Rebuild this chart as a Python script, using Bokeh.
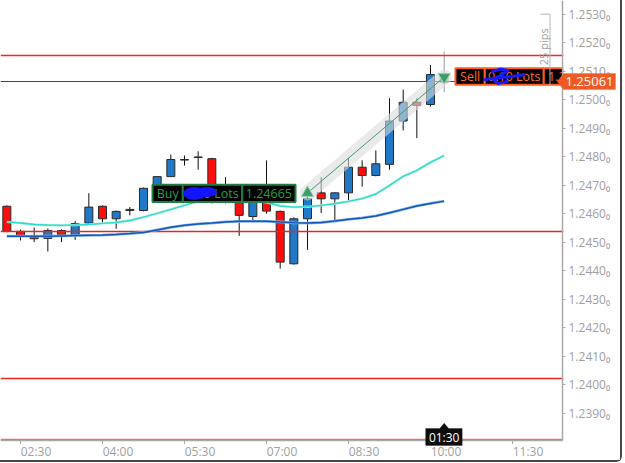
import datetime as dt
from math import pi
from bokeh.plotting import figure
from bokeh.models import (ColumnDataSource, Range1d, FixedTicker, Label, PolyAnnotation)
from bokeh.core.properties import value
from bokeh.embed import file_html
from bokeh.resources import INLINE

# ---------------- data ----------------
times = ["02:15", "02:30", "02:45", "03:00", "03:15", "03:30", "03:45", "04:00", "04:15",
         "04:30", "04:45", "05:00", "05:15", "05:30", "05:45", "06:00", "06:15", "06:30",
         "06:45", "07:00", "07:15", "07:30", "07:45", "08:00", "08:15", "08:30", "08:45",
         "09:00", "09:15", "09:30", "09:45", "10:00", "10:15"]
opens = [1.24627, 1.24539, 1.24519, 1.24514, 1.24542, 1.24524, 1.24568, 1.24627, 1.24583,
         1.24612, 1.24612, 1.24689, 1.24731, 1.24789, 1.24798, 1.24794, 1.24661, 1.24641,
         1.24591, 1.24646, 1.24609, 1.24425, 1.24583, 1.24674, 1.24653, 1.24674, 1.24764,
         1.24735, 1.24774, 1.24926, 1.24992, 1.24984, 1.25089]
highs = [1.24630, 1.24545, 1.24552, 1.24549, 1.24546, 1.24575, 1.24673, 1.24630, 1.24612,
         1.24624, 1.24693, 1.24733, 1.24809, 1.24805, 1.24820, 1.24797, 1.24729, 1.24700,
         1.24647, 1.24788, 1.24612, 1.24588, 1.24688, 1.24729, 1.24675, 1.24796, 1.24788,
         1.24823, 1.25006, 1.25036, 1.25006, 1.25123, 1.25170]
lows = [1.24536, 1.24507, 1.24501, 1.24468, 1.24501, 1.24509, 1.24565, 1.24571, 1.24548,
        1.24595, 1.24609, 1.24686, 1.24730, 1.24770, 1.24755, 1.24637, 1.24637, 1.24523,
        1.24574, 1.24601, 1.24408, 1.24422, 1.24474, 1.24603, 1.24577, 1.24647, 1.24696,
        1.24732, 1.24755, 1.24893, 1.24866, 1.24977, 1.25027]
closes = [1.24539, 1.24522, 1.24513, 1.24542, 1.24527, 1.24566, 1.24624, 1.24583, 1.24609,
          1.24616, 1.24690, 1.24731, 1.24791, 1.24791, 1.24800, 1.24651, 1.24647, 1.24595,
          1.24641, 1.24610, 1.24431, 1.24583, 1.24653, 1.24653, 1.24674, 1.24764, 1.24735,
          1.24776, 1.24926, 1.24992, 1.24981, 1.25089, 1.25061]
ma_fast = [1.24572, 1.24568, 1.24563, 1.24561, 1.24560, 1.24561, 1.24563, 1.24567, 1.24570,
           1.24577, 1.24589, 1.24602, 1.24616, 1.24630, 1.24644, 1.24651, 1.24653, 1.24651,
           1.24647, 1.24641, 1.24628, 1.24624, 1.24625, 1.24630, 1.24636, 1.24644, 1.24654,
           1.24670, 1.24700, 1.24732, 1.24753, 1.24781, 1.24805]
ma_slow = [1.24522, 1.24522, 1.24522, 1.24522, 1.24523, 1.24524, 1.24525, 1.24526, 1.24528,
           1.24531, 1.24535, 1.24544, 1.24553, 1.24560, 1.24565, 1.24568, 1.24572, 1.24574,
           1.24574, 1.24574, 1.24572, 1.24569, 1.24568, 1.24570, 1.24575, 1.24581, 1.24586,
           1.24593, 1.24604, 1.24616, 1.24628, 1.24637, 1.24645]
levels = [1.25156, 1.24539, 1.24023, 1.23810]
entry_time, entry_price = "07:45", 1.24665
exit_time, exit_price = "10:15", 1.25061
lot_text = "0.10"
x_ticks = ["02:30", "04:00", "05:30", "07:00", "08:30", "10:00", "11:30"]
y_ticks = [1.2390, 1.2400, 1.2410, 1.2420, 1.2430, 1.2440, 1.2450, 1.2460,
           1.2470, 1.2480, 1.2490, 1.2500, 1.2510, 1.2520, 1.2530]
y_tick_labels = ["1.2390₀", "1.2400₀", "1.2410₀", "1.2420₀", "1.2430₀", "1.2440₀",
                 "1.2450₀", "1.2460₀", "1.2470₀", "1.2480₀", "1.2490₀", "1.2500₀",
                 "1.2510₀", "1.2520₀", "1.2530₀"]
timer_text = "01:30"
ruler_low, ruler_pips = 1.25051, 25


def ms(hhmm):
    h, m = map(int, hhmm.split(":"))
    return (dt.datetime(2018, 6, 13, h, m) - dt.datetime(1970, 1, 1)).total_seconds() * 1000.0


# ---------------- layout helpers ----------------
CW, CH = 620, 460            # canvas (= frame, axes sit at fixed locations)
PW, PH = 562, 440            # price/time pane inside it
MSPX = 15 * 60 * 1000 / 13.667          # ms per screen pixel
x_start = ms("02:30") - 20 * MSPX
x_edge = x_start + PW * MSPX            # where the price axis sits
x_end = x_start + CW * MSPX
y_top = 1.25349
PPX = 0.01544 / PH                       # price per screen pixel
y_edge = y_top - PH * PPX                # where the time axis sits
y_bot = y_top - CH * PPX


def dX(px):
    return px * MSPX


def dY(py):
    return py * PPX


FONT = "Open Sans"
AX_COL = "#a9a9a9"
LAB_COL = "#a0a0a0"

p = figure(frame_width=CW, frame_height=CH, x_axis_type="datetime", y_axis_location="right",
           min_border=0, output_backend="svg", toolbar_location=None,
           x_range=Range1d(x_start, x_end), y_range=Range1d(y_bot, y_top))
p.styles = {"border-right": "2px solid #474747", "border-bottom": "2px solid #474747",
            "border-bottom-right-radius": "6px"}
p.xgrid.visible = False
p.ygrid.visible = False
p.outline_line_color = None
p.background_fill_color = "white"
p.border_fill_color = "white"

# price axis
ya = p.yaxis[0]
ya.fixed_location = x_edge
ya.bounds = (y_edge, y_top)
ya.ticker = FixedTicker(ticks=y_ticks)
ya.major_label_overrides = {v: s for v, s in zip(y_ticks, y_tick_labels)}
ya.major_tick_out = 3
ya.major_label_standoff = 3

# time axis: labels start at their tick, so the label positions are shifted right
shift = dX(15.5)
lab_pos = [round(ms(s) + shift) for s in x_ticks]
xa = p.xaxis[0]
xa.fixed_location = y_edge
xa.bounds = (x_start, x_edge)
xa.ticker = FixedTicker(ticks=lab_pos)
xa.major_label_overrides = {v: s for v, s in zip(lab_pos, x_ticks)}
xa.major_tick_out = 0
xa.major_label_standoff = 2
xa.major_tick_line_color = None

for ax in (xa, ya):
    ax.axis_line_color = AX_COL
    ax.axis_line_width = 1.5
    ax.major_tick_in = 0
    ax.minor_tick_line_color = None
    ax.major_label_text_color = LAB_COL
    ax.major_label_text_font = FONT
    ax.major_label_text_font_size = "12px"
ya.major_tick_line_color = AX_COL

# ---------------- candles ----------------
t = [ms(s) for s in times]
n = len(t)
fill = ["#1f78c8" if c >= o else "#ff0c0c" for o, c in zip(opens, closes)]
wick = ["#111111"] * n
edge = ["#2a2a2a"] * n
fill[-1], wick[-1], edge[-1] = "#cfcfcf", "#9a9a9a", "#a0a0a0"
src = ColumnDataSource(dict(t=t, h=highs, l=lows,
                            top=[max(o, c) for o, c in zip(opens, closes)],
                            bot=[min(o, c) for o, c in zip(opens, closes)],
                            fill=fill, wick=wick, edge=edge))
p.segment("t", "h", "t", "l", source=src, line_color="wick", line_width=1)
p.vbar(x="t", width=dX(8), top="top", bottom="bot", fill_color="fill",
       line_color="edge", line_width=1, source=src)

# ---------------- horizontal levels ----------------
p.hspan(y=[levels[0]], line_color="#ff2020", line_width=1.5)
p.hspan(y=[levels[1]], line_color="#e82525", line_width=1.5)
p.hspan(y=[levels[2]], line_color="#e82525", line_width=1.5)
p.hspan(y=[levels[3]], line_color="#ff3b3b", line_width=1.5, line_alpha=0.8)
p.hspan(y=[closes[-1] + dY(1.5)], line_color="#7a3328", line_width=1.2)

# ---------------- moving averages ----------------
p.line(t, ma_slow, line_color="#86b6ea", line_width=2.8)
p.line(t, ma_slow, line_color="#1456b4", line_width=1.5)
p.line(t, ma_fast, line_color="#a6f0e8", line_width=2.4)
p.line(t, ma_fast, line_color="#2fdcc8", line_width=1.4)

# ---------------- trade line ----------------
te, tx = ms(entry_time), ms(exit_time)
ye, yx = entry_price + dY(2.5), exit_price + dY(5.5)
p.line([te, tx], [ye, yx], line_color="#dcdcdc", line_alpha=0.6, line_width=15,
       line_cap="round")
p.line([te, tx], [ye, yx], line_color="#3f9c6a", line_width=1)
p.scatter([te], [ye], marker="triangle", size=12, fill_color="#3f9c6a", line_color="#8fd0aa")
p.scatter([tx], [yx], marker="inverted_triangle", size=12, fill_color="#3f9c6a",
          line_color="#8fd0aa")

# ---------------- buy box ----------------
eb = [-155, -124.7, -65.3, -12]
b_top, b_bot = entry_price + dY(10.7), entry_price - dY(6.7)
p.quad(left=[te + dX(e) for e in eb[:-1]], right=[te + dX(e) for e in eb[1:]],
       top=b_top, bottom=b_bot, fill_color="black", line_color="#1f7f3f", line_width=2)
p.text(x=[te + dX((a + b) / 2) for a, b in zip(eb[:-1], eb[1:])],
       y=[(b_top + b_bot) / 2] * 3,
       text=["Buy", lot_text + " Lots", f"{entry_price:.5f}"],
       text_color="#2a9e4b", text_font=value(FONT), text_font_size="12.5px",
       text_align="center", text_baseline="middle")
p.ellipse(x=[te + dX(-113), te + dX(-101)], y=[entry_price + dY(2), entry_price + dY(3.5)],
          width=[dX(22), dX(20)], height=[dY(12), dY(9)], fill_color="#1414ff",
          line_color="#1414ff")

# ---------------- sell box ----------------
es = [11.3, 40.6, 99.6, 154.3]
s_top, s_bot = exit_price + dY(14.4), exit_price - dY(2.2)
p.quad(left=[tx + dX(e) for e in es[:-1]], right=[tx + dX(e) for e in es[1:]],
       top=s_top, bottom=s_bot, fill_color="black", line_color="#ff5a1f", line_width=2)
p.text(x=[tx + dX((a + b) / 2) for a, b in zip(es[:-1], es[1:])],
       y=[(s_top + s_bot) / 2] * 3,
       text=["Sell", lot_text + " Lots", f"{exit_price:.5f}"],
       text_color="#ff6a2a", text_font=value(FONT), text_font_size="12.5px",
       text_align="center", text_baseline="middle")
scrib = [[(41, 3), (56, 5), (68, 6), (80, 8)],
         [(48, 11), (56, 13.5), (64, 12), (56, 7), (49, 3), (54, -1), (63, 1)]]
p.multi_line(xs=[[tx + dX(a) for a, b in s] for s in scrib],
             ys=[[exit_price + dY(b) for a, b in s] for s in scrib],
             line_color="#1a1aff", line_width=3, line_cap="round", line_join="round")

# ---------------- pips ruler ----------------
r_hi = ruler_low + ruler_pips * 0.0001
rx = x_edge - dX(12.5)
p.multi_line(xs=[[x_edge - dX(22), rx, rx]], ys=[[r_hi, r_hi, ruler_low]],
             line_color="#b4b4b4", line_width=1)
p.text(x=[x_edge - dX(19.5)], y=[(r_hi + ruler_low) / 2 + dY(3)],
       text=[f"{ruler_pips} pips"], angle=pi / 2, text_color=LAB_COL,
       text_font=value(FONT), text_font_size="11px", text_align="center",
       text_baseline="middle")

# ---------------- blank margin right of the price axis ----------------
p.quad(left=[x_edge + dX(0.75)], right=[x_end], bottom=[y_bot], top=[y_top],
       fill_color="white", line_color=None)

# time-axis tick marks at the true tick times
p.segment(x0=[ms(s) for s in x_ticks], y0=y_edge, x1=[ms(s) for s in x_ticks],
          y1=y_edge - dY(3.5), line_color=AX_COL, line_width=1)

# ---------------- price tag on the axis ----------------
c = closes[-1]
TAG = "#ef5a24"
p.add_layout(PolyAnnotation(
    xs=[x_edge - dX(5.3), x_edge + dX(1), x_edge + dX(53), x_edge + dX(53), x_edge + dX(1)],
    ys=[c + dY(1), c + dY(9), c + dY(9), c - dY(7), c - dY(7)],
    fill_color=TAG, fill_alpha=1, line_color=TAG, line_width=1))
p.add_layout(Label(x=x_edge + dX(27), y=c + dY(1), text=f"{c:.5f}", text_color="white",
                   text_font="Open Sans", text_font_size="13px", text_align="center",
                   text_baseline="middle"))

# ---------------- bar timer ----------------
p.add_layout(PolyAnnotation(
    xs=[tx - dX(18.5), tx - dX(4.5), tx, tx + dX(4.5), tx + dX(18), tx + dX(18),
        tx - dX(18.5)],
    ys=[y_edge + dY(12), y_edge + dY(12), y_edge + dY(17.3), y_edge + dY(12),
        y_edge + dY(12), y_edge - dY(5), y_edge - dY(5)],
    fill_color="#0d0d0d", fill_alpha=1, line_color="#0d0d0d", line_width=1))
p.add_layout(Label(x=tx, y=y_edge + dY(3.5), text=timer_text, text_color="white",
                   text_font="Open Sans", text_font_size="12px", text_align="center",
                   text_baseline="middle"))

open("out.html", "w").write(file_html(p, INLINE))
